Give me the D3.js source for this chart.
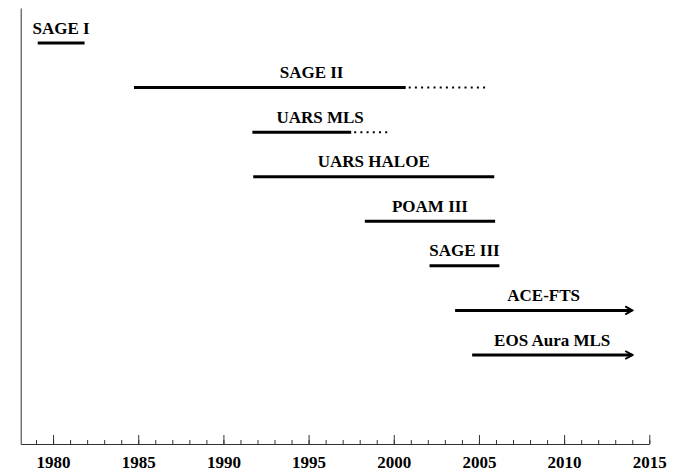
<!DOCTYPE html>
<html>
<head>
<meta charset="utf-8">
<script src="https://cdn.jsdelivr.net/npm/d3@7"></script>
<style>
  body { margin: 0; background: #fff; }
  svg text { font-family: "Liberation Serif", "Times New Roman", serif; font-weight: bold; }
</style>
</head>
<body>
<svg id="timeline" width="683" height="476"></svg>
<script>
// instrument records (decimal years)
const names = ["SAGE I", "SAGE II", "UARS MLS", "UARS HALOE", "POAM III", "SAGE III", "ACE-FTS", "EOS Aura MLS"];
const starts = [1979.1, 1984.75, 1991.7, 1991.75, 1998.3, 2002.1, 2003.6, 2004.6];
const solidEnds = [1981.85, 2000.7, 1997.5, 2005.9, 2005.95, 2006.2, 2014, 2014];
const dottedEnds = [null, 2005.6, 1999.65, null, null, null, null, null];
const ongoing = [false, false, false, false, false, false, true, true];
const majorTicks = [1980, 1985, 1990, 1995, 2000, 2005, 2010, 2015];
const minorTicks = d3.range(1979, 2016);

const data = names.map((n, i) => ({
  name: n, start: starts[i], end: solidEnds[i], dotted: dottedEnds[i], arrow: ongoing[i]
}));

var svg = d3.select("#timeline"),
    margin = {top: 8, left: 20.7},
    axisY = 444;

var x = d3.scaleLinear().domain([1978.1, 2015]).range([margin.left, 649.3]);
var y = d3.scalePoint().domain(names).range([43, 355]);
var yAxisScale = d3.scaleLinear().domain([0, 1]).range([axisY, margin.top]);

svg.append("defs").append("marker")
  .attr("id", "arrow")
  .attr("viewBox", "0 -5 10 10")
  .attr("refX", 8)
  .attr("refY", 0)
  .attr("markerUnits", "userSpaceOnUse")
  .attr("markerWidth", 10)
  .attr("markerHeight", 10)
  .attr("orient", "auto")
  .append("path")
  .attr("d", "M1,-4L8,0L1,4")
  .attr("fill", "none")
  .attr("stroke", "#000")
  .attr("stroke-width", 2);

// minor ticks (every year)
var minor = svg.append("g")
  .attr("transform", "translate(0," + axisY + ")")
  .call(d3.axisBottom(x).tickValues(minorTicks).tickSize(-4).tickFormat(""));
minor.select(".domain").remove();

// major ticks with labels
var major = svg.append("g")
  .attr("transform", "translate(0," + axisY + ")")
  .call(d3.axisBottom(x).tickValues(majorTicks).tickSize(-9).tickSizeOuter(0)
    .tickPadding(12).tickFormat(d3.format("d")));
major.selectAll("text").attr("font-size", 17).attr("fill", "#000")
  .style("font-family", "'Liberation Serif', serif").style("font-weight", "bold");

svg.selectAll(".tick line, .domain").attr("stroke", "#333");

// left axis line
var left = svg.append("g")
  .attr("transform", "translate(" + margin.left + ",0)")
  .call(d3.axisLeft(yAxisScale).tickValues([]).tickSizeOuter(0));
left.select(".domain").attr("stroke", "#333");

// solid spans
svg.selectAll("line.span")
  .data(data)
  .enter()
  .append("line")
  .attr("class", "span")
  .attr("x1", d => x(d.start))
  .attr("x2", d => x(d.end))
  .attr("y1", d => y(d.name))
  .attr("y2", d => y(d.name))
  .attr("stroke", "#000")
  .attr("stroke-width", 3)
  .attr("marker-end", d => d.arrow ? "url(#arrow)" : null);

// dotted extensions
svg.selectAll("line.ext")
  .data(data.filter(d => d.dotted))
  .enter()
  .append("line")
  .attr("class", "ext")
  .attr("x1", d => x(d.end) + 3)
  .attr("x2", d => x(d.dotted))
  .attr("y1", d => y(d.name))
  .attr("y2", d => y(d.name))
  .attr("stroke", "#000")
  .attr("stroke-width", 2)
  .attr("stroke-dasharray", "2,4.2");

// labels
svg.selectAll("text.label")
  .data(data)
  .enter()
  .append("text")
  .attr("class", "label")
  .attr("x", d => (x(d.start) + x(d.dotted || d.end)) / 2)
  .attr("y", d => y(d.name) - 9.5)
  .attr("text-anchor", "middle")
  .attr("font-size", 17)
  .attr("fill", "#000")
  .text(d => d.name);
</script>
</body>
</html>
